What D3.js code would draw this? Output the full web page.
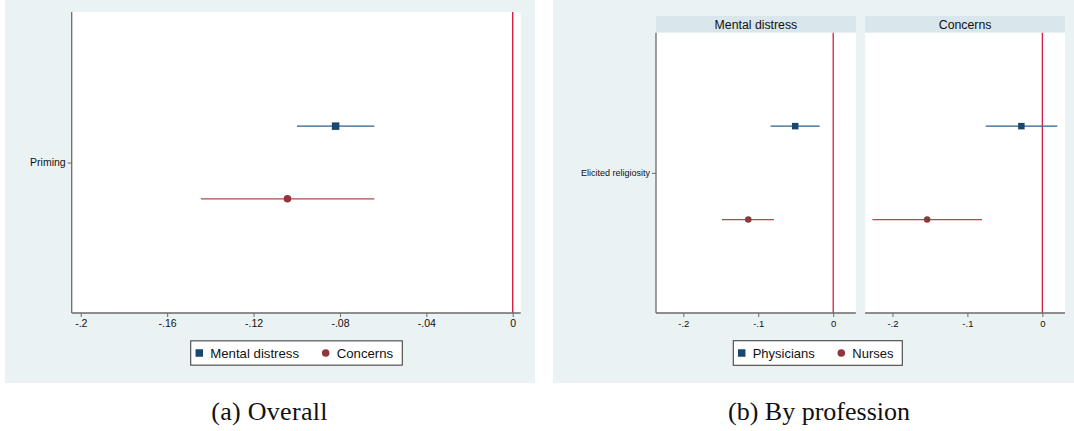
<!DOCTYPE html>
<html><head><meta charset="utf-8">
<script src="https://cdn.jsdelivr.net/npm/d3@7"></script>
<style>
html,body{margin:0;padding:0;background:#fff;}
svg{display:block;}
text{font-family:"Liberation Sans",Arial,sans-serif;}
text.caption{font-family:"Liberation Serif","Times New Roman",serif;}
</style></head>
<body>
<svg id="chart" width="1074" height="431"></svg>
<script>
// ---------- data ----------
const overallCategory = ["Priming"];
const overallSeries = ["Mental distress", "Concerns"];
const overallEst = [-0.082, -0.1043];
const overallLo = [-0.0999, -0.1444];
const overallHi = [-0.0641, -0.0641];
const overallTicks = [-0.2, -0.16, -0.12, -0.08, -0.04, 0];
const overallTickLabels = ["-.2", "-.16", "-.12", "-.08", "-.04", "0"];

const profCategory = ["Elicited religiosity"];
const profPanels = ["Mental distress", "Concerns"];
const profSeries = ["Physicians", "Nurses"];
const physiciansEst = [-0.0507, -0.028];
const physiciansLo = [-0.0835, -0.0755];
const physiciansHi = [-0.0181, 0.020];
const nursesEst = [-0.1133, -0.1537];
const nursesLo = [-0.1484, -0.2267];
const nursesHi = [-0.0791, -0.0804];
const profTicks = [-0.2, -0.1, 0];
const profTickLabels = ["-.2", "-.1", "0"];

const captions = ["(a) Overall", "(b) By profession"];

// ---------- styles ----------
const BG = "#eaf2f3", STRIP = "#d9e6eb", AXIS = "#6a6a6a", REF = "#d81e45";
const BLUE = "#1a476f", BLUE_L = "#2f5f8a", RED = "#90353b", RED_L = "#b0484f";
const seriesStyle = [
  {color: BLUE, line: BLUE_L, shape: "square"},
  {color: RED, line: RED_L, shape: "circle"}
];

const svg = d3.select("#chart");

function drawMarker(g, shape, cx, cy, size, color) {
  if (shape === "square") {
    g.append("rect").attr("x", cx - size/2).attr("y", cy - size/2)
      .attr("width", size).attr("height", size).attr("fill", color);
  } else {
    g.append("circle").attr("cx", cx).attr("cy", cy).attr("r", size/2).attr("fill", color);
  }
}

function xAxis(g, x, y0, ticks, labels, fs) {
  const ax = d3.axisBottom(x).tickValues(ticks).tickSize(4).tickPadding(3)
    .tickFormat((d, i) => labels[i]);
  const a = g.append("g").attr("transform", `translate(0,${y0})`).call(ax);
  a.select(".domain").attr("stroke", AXIS).attr("stroke-width", 1.3)
    .attr("d", `M${x.range()[0]},0H${x.range()[1]}`);
  a.selectAll(".tick line").attr("stroke", AXIS).attr("stroke-width", 1);
  a.selectAll(".tick text").attr("font-size", fs).attr("fill", "#111");
}

function yAxis(g, y, x0, fs) {
  const ax = d3.axisLeft(y).tickSize(4).tickPadding(2);
  const a = g.append("g").attr("transform", `translate(${x0},0)`).call(ax);
  a.select(".domain").attr("stroke", AXIS).attr("stroke-width", 1.3)
    .attr("d", `M0,${y.range()[0]}V${y.range()[1]}`);
  a.selectAll(".tick line").attr("stroke", AXIS).attr("stroke-width", 1);
  a.selectAll(".tick text").attr("font-size", fs).attr("fill", "#111");
}

function legend(g, cx, cy, w, h, names, fs, offs) {
  const lg = g.append("g");
  lg.append("rect").attr("x", cx - w/2).attr("y", cy - h/2).attr("width", w).attr("height", h)
    .attr("fill", "#fff").attr("stroke", "#444").attr("stroke-width", 1.1);
  names.forEach((n, i) => {
    const mx = cx - w/2 + offs[i];
    drawMarker(lg, seriesStyle[i].shape, mx, cy, 7.5, seriesStyle[i].color);
    lg.append("text").attr("x", mx + 11).attr("y", cy + fs*0.36).attr("font-size", fs)
      .attr("fill", "#111").text(n);
  });
}

function caption(g, cx, txt, ls) {
  g.append("text").attr("class", "caption").attr("x", cx).attr("y", 420).attr("text-anchor", "middle")
    .attr("font-size", 26).attr("letter-spacing", ls).attr("fill", "#111").text(txt);
}

// ---------- panel (a) ----------
{
  const g = svg.append("g");
  g.append("rect").attr("x", 5).attr("y", 0).attr("width", 530).attr("height", 383).attr("fill", BG);
  const L = 71.7, R = 520.7, T = 12, B = 313;
  g.append("rect").attr("x", L).attr("y", T).attr("width", R - L).attr("height", B - T).attr("fill", "#fff");
  const x = d3.scaleLinear().domain([-0.2042, 0.0037]).range([L, R]);
  const yc = d3.scalePoint().domain(overallCategory).range([B, T]).padding(0.5);
  const ys = d3.scalePoint().domain(overallSeries).range([T, B]).padding(1.57);
  g.append("line").attr("x1", x(0)).attr("x2", x(0)).attr("y1", T).attr("y2", B)
    .attr("stroke", REF).attr("stroke-width", 1.4);
  overallSeries.forEach((s, i) => {
    const st = seriesStyle[i], yy = ys(s);
    g.append("line").attr("x1", x(overallLo[i])).attr("x2", x(overallHi[i]))
      .attr("y1", yy).attr("y2", yy).attr("stroke", st.line).attr("stroke-width", 1.4);
    drawMarker(g, st.shape, x(overallEst[i]), yy, 7.5, st.color);
  });
  xAxis(g, x, B, overallTicks, overallTickLabels, 10.5);
  yAxis(g, yc, L, 10.5);
  legend(g, 296.5, 353, 211.6, 24.3, overallSeries, 13.2, [8.6, 135]);
  caption(g, 269.5, captions[0], 0.3);
}

// ---------- panel (b) ----------
{
  const g = svg.append("g");
  g.append("rect").attr("x", 553).attr("y", 0).attr("width", 521).attr("height", 383).attr("fill", BG);
  const T = 32.7, B = 313, ST = 16;
  const panelX = d3.scaleBand().domain(profPanels).range([656, 1065]).paddingInner(0.0445);
  const est = [physiciansEst, nursesEst], lo = [physiciansLo, nursesLo], hi = [physiciansHi, nursesHi];
  const yc = d3.scalePoint().domain(profCategory).range([B, T]).padding(0.5);
  const ys = d3.scalePoint().domain(profSeries).range([T, B]).padding(1.0);
  profPanels.forEach((p, pi) => {
    const L = panelX(p), R = L + panelX.bandwidth();
    g.append("rect").attr("x", L).attr("y", ST).attr("width", R - L).attr("height", T - ST).attr("fill", STRIP);
    g.append("text").attr("x", (L + R)/2).attr("y", (ST + T)/2 + 4.4).attr("text-anchor", "middle")
      .attr("font-size", 12.3).attr("fill", "#111").text(p);
    g.append("rect").attr("x", L).attr("y", T).attr("width", R - L).attr("height", B - T).attr("fill", "#fff");
    const x = d3.scaleLinear().domain([-0.2364, 0.0302]).range([L, R]);
    g.append("line").attr("x1", x(0)).attr("x2", x(0)).attr("y1", T).attr("y2", B)
      .attr("stroke", REF).attr("stroke-width", 1.3);
    profSeries.forEach((s, si) => {
      const st = seriesStyle[si], yy = ys(s);
      g.append("line").attr("x1", x(lo[si][pi])).attr("x2", x(hi[si][pi]))
        .attr("y1", yy).attr("y2", yy).attr("stroke", st.line).attr("stroke-width", 1.3);
      drawMarker(g, st.shape, x(est[si][pi]), yy, 6.5, st.color);
    });
    xAxis(g, x, B, profTicks, profTickLabels, 9.5);
    if (pi === 0) yAxis(g, yc, L, 9);
  });
  legend(g, 817.8, 353, 169, 24.6, profSeries, 13, [8.4, 108]);
  caption(g, 819, captions[1], 0);
}
</script>
</body></html>
